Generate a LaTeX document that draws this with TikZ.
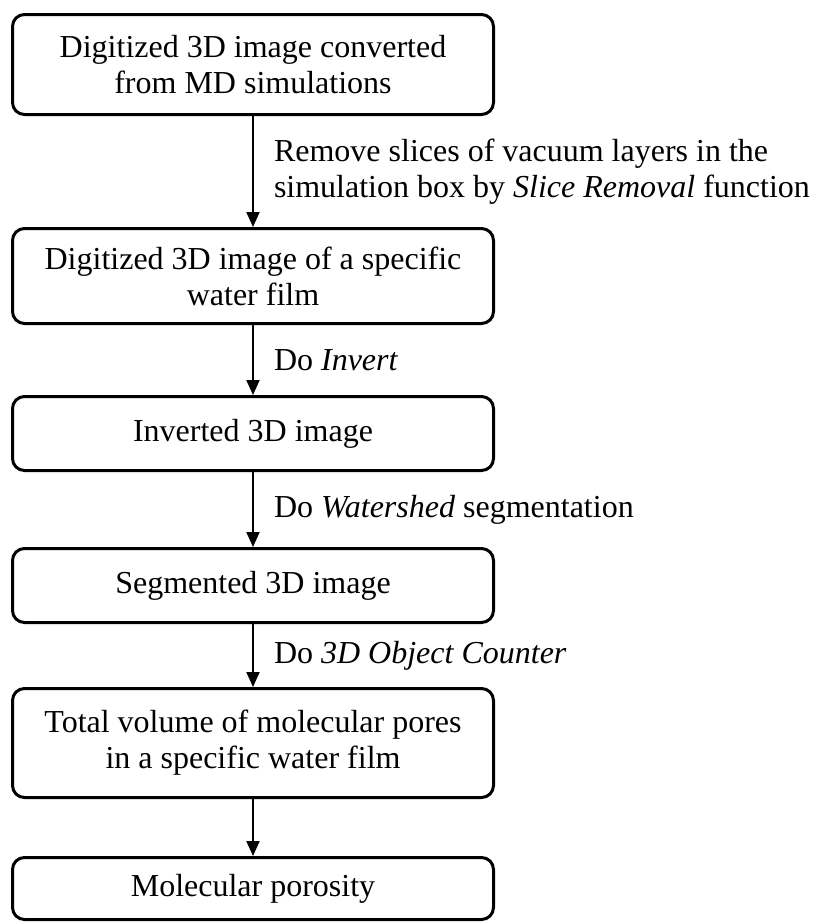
\documentclass[tikz,border=0pt]{standalone}
\usepackage{fontspec}
\setmainfont{Liberation Serif}
\usetikzlibrary{arrows.meta}
\begin{document}
\begin{tikzpicture}[x=1pt,y=-1pt,
  box/.style={draw=black, line width=3pt, rounded corners=12pt, minimum width=481pt,
    align=center, inner sep=0pt, font=\fontsize{32}{36}\selectfont},
  arr/.style={draw=black, line width=2pt, -{Triangle[length=15pt,width=13pt]}},
  lbl/.style={anchor=west, xshift=20pt, inner sep=0pt, align=left, font=\fontsize{32}{36}\selectfont}]
\useasboundingbox (0,0) rectangle (812,924);
\node[box, minimum height=100pt] (b1) at (253,64.5) {Digitized 3D image converted\\from MD simulations};
\node[box, minimum height=95pt] (b2) at (253,276) {Digitized 3D image of a specific\\water film};
\node[box, minimum height=74pt] (b3) at (253,433.5) {Inverted 3D image};
\node[box, minimum height=74pt] (b4) at (253,585.5) {Segmented 3D image};
\node[box, minimum height=109pt] (b5) at (253,743) {Total volume of molecular pores\\in a specific water film};
\node[box, minimum height=62pt] (b6) at (253,888.5) {Molecular porosity};
\draw[arr] (b1) -- (b2) node[midway, lbl] {Remove slices of vacuum layers in the\\simulation box by \textit{Slice Removal} function};
\draw[arr] (b2) -- (b3) node[midway, lbl] {Do \textit{Invert}};
\draw[arr] (b3) -- (b4) node[midway, lbl] {Do \textit{Watershed} segmentation};
\draw[arr] (b4) -- (b5) node[midway, lbl] {Do \textit{3D Object Counter}};
\draw[arr] (b5) -- (b6);
\end{tikzpicture}
\end{document}
